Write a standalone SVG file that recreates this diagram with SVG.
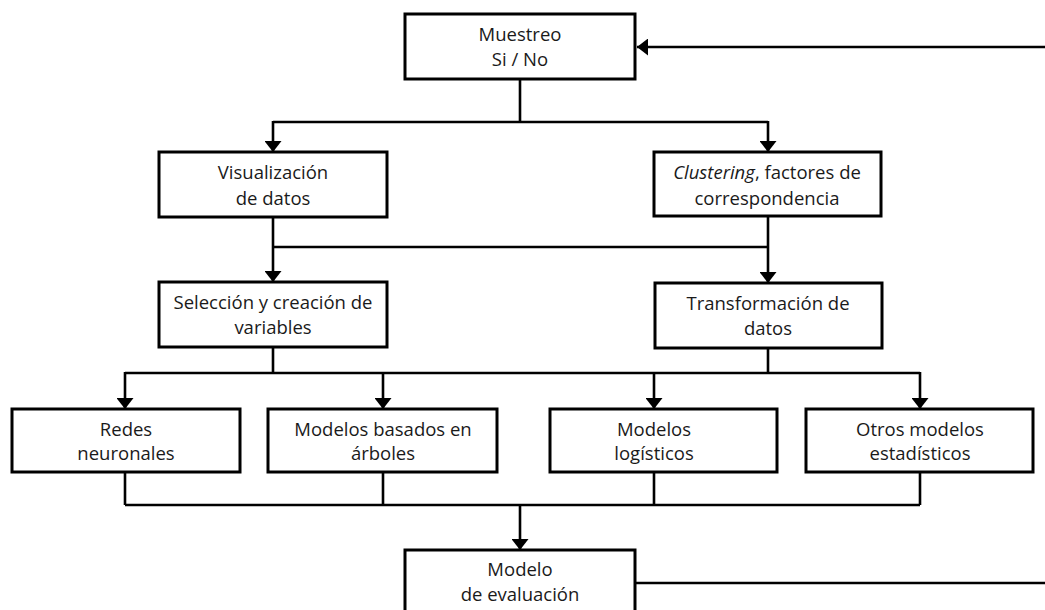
<svg xmlns="http://www.w3.org/2000/svg" width="1045" height="610" viewBox="0 0 1045 610">
<style>
.box{fill:#fff;stroke:#000;stroke-width:3}
.ln{fill:none;stroke:#000;stroke-width:2.6}
.t{font-family:"Open Sans","Noto Sans",sans-serif;font-size:18.5px;fill:#1a1a1a;text-anchor:middle}
.it{font-style:italic}
</style>
<defs>
<marker id="ah" viewBox="0 0 11 17" refX="11" refY="8.5" markerWidth="11" markerHeight="17" orient="auto" markerUnits="userSpaceOnUse"><path d="M0,0 L11,8.5 L0,17 z" fill="#000"/></marker>
</defs>
<rect width="1045" height="610" fill="#fff"/>
<g id="connectors">
<path class="ln" d="M1045,47 L637,47" marker-end="url(#ah)"/>
<path class="ln" d="M520,79 L520,122 M273,122 L768,122"/>
<path class="ln" d="M273,121 L273,152" marker-end="url(#ah)"/>
<path class="ln" d="M768,121 L768,152" marker-end="url(#ah)"/>
<path class="ln" d="M273,247 L768,247"/>
<path class="ln" d="M273,217 L273,282" marker-end="url(#ah)"/>
<path class="ln" d="M768,216 L768,283" marker-end="url(#ah)"/>
<path class="ln" d="M273,347 L273,373 M768,348 L768,373 M125,373 L920,373"/>
<path class="ln" d="M125,372 L125,409" marker-end="url(#ah)"/>
<path class="ln" d="M383,372 L383,409" marker-end="url(#ah)"/>
<path class="ln" d="M654,372 L654,409" marker-end="url(#ah)"/>
<path class="ln" d="M920,372 L920,409" marker-end="url(#ah)"/>
<path class="ln" d="M125,472 L125,505 M383,472 L383,505 M654,472 L654,505 M920,472 L920,505 M125,505 L920,505"/>
<path class="ln" d="M520,505 L520,550" marker-end="url(#ah)"/>
<path class="ln" d="M635,583 L1045,583"/>
</g>
<g id="muestreo"><rect class="box" x="405" y="14" width="230" height="65"/><text class="t" x="520" y="41">Muestreo</text><text class="t" x="520" y="66">Si / No</text></g>
<g id="visualizacion"><rect class="box" x="159" y="152" width="228" height="65"/><text class="t" x="273" y="179">Visualización</text><text class="t" x="273" y="205">de datos</text></g>
<g id="clustering"><rect class="box" x="654" y="152" width="227" height="64"/><text class="t" x="767" y="179"><tspan class="it">Clustering</tspan>, factores de</text><text class="t" x="767" y="205">correspondencia</text></g>
<g id="seleccion"><rect class="box" x="159" y="282" width="228" height="65"/><text class="t" x="273" y="309">Selección y creación de</text><text class="t" x="273" y="334">variables</text></g>
<g id="transformacion"><rect class="box" x="655" y="283" width="227" height="65"/><text class="t" x="768" y="310">Transformación de</text><text class="t" x="768" y="335">datos</text></g>
<g id="redes"><rect class="box" x="12" y="409" width="228" height="63"/><text class="t" x="126" y="436">Redes</text><text class="t" x="126" y="460">neuronales</text></g>
<g id="arboles"><rect class="box" x="268" y="409" width="229" height="63"/><text class="t" x="383" y="436">Modelos basados en</text><text class="t" x="383" y="460">árboles</text></g>
<g id="logisticos"><rect class="box" x="550" y="409" width="227" height="63"/><text class="t" x="654" y="436">Modelos</text><text class="t" x="654" y="460">logísticos</text></g>
<g id="otros"><rect class="box" x="806" y="409" width="227" height="63"/><text class="t" x="920" y="436">Otros modelos</text><text class="t" x="920" y="460">estadísticos</text></g>
<g id="evaluacion"><rect class="box" x="405" y="550" width="230" height="80"/><text class="t" x="520" y="576">Modelo</text><text class="t" x="520" y="601">de evaluación</text></g>
</svg>
